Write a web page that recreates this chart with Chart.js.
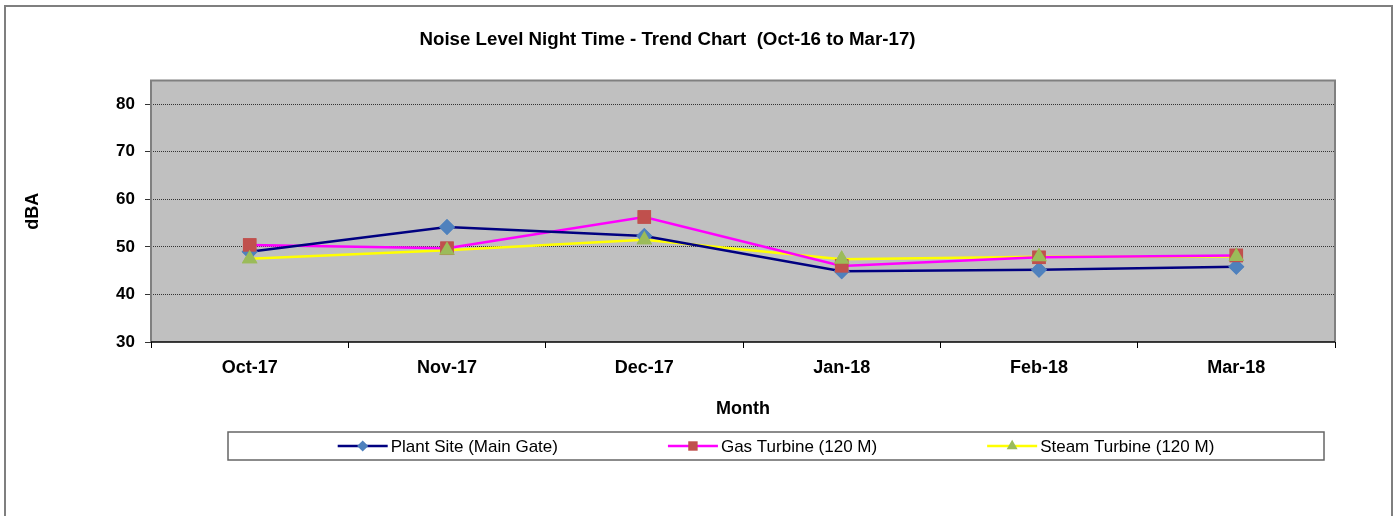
<!DOCTYPE html>
<html>
<head>
<meta charset="utf-8">
<script src="https://cdn.jsdelivr.net/npm/chart.js@4.4.1/dist/chart.umd.min.js"></script>
<style>
  html, body { margin: 0; padding: 0; background: #fff; }
  #wrap { width: 1397px; height: 516px; position: relative; }
</style>
</head>
<body>
<div id="wrap"><canvas id="noiseChart"></canvas></div>
<script>
const months = ["Oct-17", "Nov-17", "Dec-17", "Jan-18", "Feb-18", "Mar-18"];
const plantSite = [49.0, 54.2, 52.3, 44.9, 45.2, 45.8];
const gasTurbine = [50.4, 49.7, 56.3, 46.0, 47.8, 48.2];
const steamTurbine = [47.5, 49.3, 51.5, 47.4, 47.9, 48.0];
const yTicks = [30, 40, 50, 60, 70, 80];

const fontFamily = "Arial, 'Liberation Sans', sans-serif";

// Page frame + grey plot area
const frame = {
  id: "frame",
  beforeDraw(chart) {
    const { ctx, chartArea: a } = chart;
    ctx.save();
    ctx.fillStyle = "#fff";
    ctx.fillRect(0, 0, chart.width, chart.height);
    ctx.strokeStyle = "#7f7f7f";
    ctx.lineWidth = 2;
    ctx.strokeRect(5, 6, chart.width - 10, chart.height + 20);
    ctx.fillStyle = "#c0c0c0";
    ctx.fillRect(a.left, a.top, a.right - a.left, a.bottom - a.top);
    ctx.restore();
  },
  afterDatasetsDraw(chart) {
    const { ctx, chartArea: a } = chart;
    ctx.save();
    ctx.strokeStyle = "#808080";
    ctx.lineWidth = 2;
    ctx.beginPath();
    ctx.moveTo(a.left, a.bottom);
    ctx.lineTo(a.left, a.top);
    ctx.lineTo(a.right, a.top);
    ctx.lineTo(a.right, a.bottom);
    ctx.stroke();
    ctx.strokeStyle = "#000";
    ctx.lineWidth = 1.5;
    ctx.beginPath();
    ctx.moveTo(a.left, a.bottom);
    ctx.lineTo(a.right, a.bottom);
    ctx.stroke();
    ctx.restore();
  },
};

// markers sit above every line, like Excel
const markersOnTop = {
  id: "markersOnTop",
  afterDatasetsDraw(chart) {
    const area = chart.chartArea;
    chart.data.datasets.forEach((ds, i) => {
      chart.getDatasetMeta(i).data.forEach((pt) => pt.draw(chart.ctx, area));
    });
  },
};

// Excel style legend: line with marker, boxed
const boxLegend = {
  id: "boxLegend",
  afterDraw(chart) {
    const { ctx } = chart;
    const box = { left: 228, top: 432, right: 1324, bottom: 460 };
    ctx.save();
    ctx.fillStyle = "#fff";
    ctx.fillRect(box.left, box.top, box.right - box.left, box.bottom - box.top);
    ctx.strokeStyle = "#666";
    ctx.lineWidth = 1.5;
    ctx.strokeRect(box.left, box.top, box.right - box.left, box.bottom - box.top);
    ctx.font = "17px " + fontFamily;
    ctx.textBaseline = "middle";
    const lineLen = 50, gap = 3, itemGap = 110;
    const items = chart.data.datasets.map((ds) => ({
      ds,
      w: lineLen + gap + ctx.measureText(ds.label).width,
    }));
    const total = items.reduce((s, it) => s + it.w, 0) + itemGap * (items.length - 1);
    let x = (box.left + box.right) / 2 - total / 2;
    const y = (box.top + box.bottom) / 2;
    items.forEach(({ ds, w }) => {
      ctx.strokeStyle = ds.borderColor;
      ctx.lineWidth = 2.5;
      ctx.beginPath();
      ctx.moveTo(x, y);
      ctx.lineTo(x + lineLen, y);
      ctx.stroke();
      ctx.fillStyle = ds.pointBackgroundColor;
      ctx.strokeStyle = ds.pointBackgroundColor;
      Chart.helpers.drawPoint(ctx, {
        pointStyle: ds.pointStyle,
        radius: ds.pointRadius * 0.7,
        borderWidth: 0,
        rotation: 0,
      }, x + lineLen / 2, y);
      ctx.fillStyle = "#000";
      ctx.fillText(ds.label, x + lineLen + gap, y + 1);
      x += w + itemGap;
    });
    ctx.restore();
  },
};

new Chart(document.getElementById("noiseChart"), {
  type: "line",
  data: {
    labels: months,
    datasets: [
      {
        label: "Plant Site (Main Gate)",
        data: plantSite,
        borderColor: "#000080",
        borderWidth: 2.5,
        pointStyle: "rectRot",
        pointRadius: 8,
        pointBackgroundColor: "#4f81bd",
        pointBorderColor: "#4f81bd",
        pointBorderWidth: 0,
      },
      {
        label: "Gas Turbine (120 M)",
        data: gasTurbine,
        borderColor: "#ff00ff",
        borderWidth: 2.5,
        pointStyle: "rect",
        pointRadius: 9.5,
        pointBackgroundColor: "#c0504d",
        pointBorderColor: "#c0504d",
        pointBorderWidth: 0,
      },
      {
        label: "Steam Turbine (120 M)",
        data: steamTurbine,
        borderColor: "#ffff00",
        borderWidth: 2.5,
        pointStyle: "triangle",
        pointRadius: 9,
        pointBackgroundColor: "#9bbb59",
        pointBorderColor: "#9bbb59",
        pointBorderWidth: 0,
      },
    ],
  },
  options: {
    responsive: true,
    maintainAspectRatio: false,
    animation: false,
    devicePixelRatio: 1,
    layout: { padding: { left: 0, top: 0, right: 62, bottom: 96 } },
    elements: { line: { tension: 0 } },
    plugins: {
      legend: { display: false },
      tooltip: { enabled: false },
      title: {
        display: true,
        text: "Noise Level Night Time - Trend Chart  (Oct-16 to Mar-17)",
        color: "#000",
        font: { family: fontFamily, size: 18.7, weight: "bold" },
        padding: { top: 29, bottom: 29 },
      },
    },
    scales: {
      x: {
        offset: true,
        grid: {
          display: true,
          offset: true,
          drawOnChartArea: false,
          drawTicks: true,
          tickLength: 6,
          tickColor: "#000",
        },
        border: { display: false },
        ticks: {
          color: "#000",
          padding: 9,
          maxRotation: 0,
          font: { family: fontFamily, size: 18, weight: "bold" },
        },
        title: {
          display: true,
          text: "Month",
          color: "#000",
          font: { family: fontFamily, size: 18, weight: "bold" },
          padding: { top: 0, bottom: 0 },
        },
        afterFit(scale) { scale.height = 78; },
      },
      y: {
        min: 30,
        max: 85,
        afterBuildTicks(scale) {
          scale.ticks = yTicks.map((v) => ({ value: v }));
        },
        grid: {
          color: (c) => (c.tick && c.tick.value === 30 ? "rgba(0,0,0,0)" : "#333"),
          lineWidth: 1,
          drawTicks: true,
          tickLength: 6,
          tickColor: "#333",
        },
        border: { display: false, dash: [1, 1] },
        ticks: {
          color: "#000",
          padding: 10,
          font: { family: fontFamily, size: 17, weight: "bold" },
        },
        title: {
          display: true,
          text: "dBA",
          color: "#000",
          font: { family: fontFamily, size: 18, weight: "bold" },
          padding: { top: 22, bottom: 0 },
        },
        afterFit(scale) { scale.width = 151; },
      },
    },
  },
  plugins: [frame, markersOnTop, boxLegend],
});
</script>
</body>
</html>
